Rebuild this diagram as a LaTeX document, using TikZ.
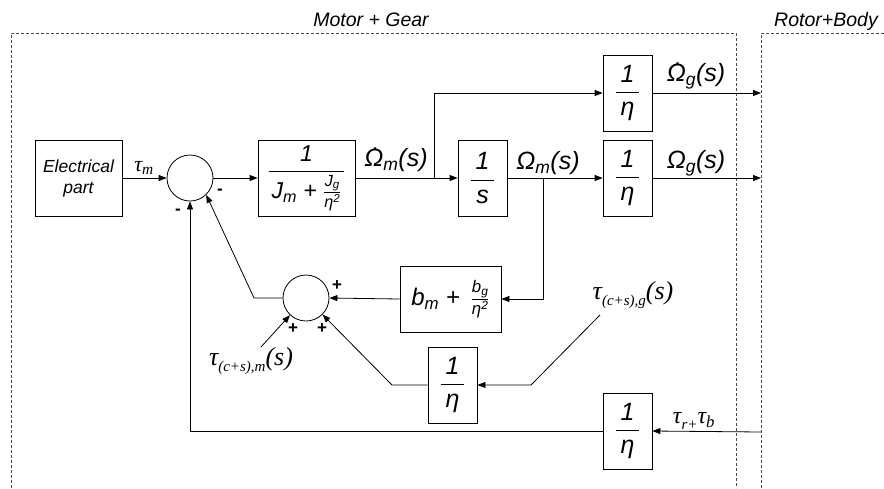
\documentclass[tikz,border=0pt]{standalone}
\usepackage{fontspec}
\usepackage{amsmath}
\setmainfont{Liberation Sans}
\newfontfamily\tmsf{Liberation Serif}
\usetikzlibrary{arrows.meta}
\newcommand\tx[1]{\text{#1}}
\newcommand\dOm{\leavevmode\ooalign{Ω\cr\hidewidth\kern0.18em\raisebox{0.62em}{.}\hidewidth\cr}}
\newcommand\tsb[1]{\raisebox{-0.22em}{\fontsize{15}{15}\selectfont #1}}
\begin{document}
\begin{tikzpicture}[x=1pt,y=-1pt,
  line width=0.8pt,
  blk/.style={draw, inner sep=0pt, align=center},
  sumc/.style={draw, circle, minimum size=46pt, inner sep=0pt},
  arr/.style={-{Triangle[length=8pt,width=6pt]}},
  lbl/.style={font=\fontsize{25}{27}\selectfont\itshape, inner sep=0pt},
  tlbl/.style={font=\tmsf\fontsize{26}{28}\selectfont\itshape, inner sep=0pt},
  sgn/.style={font=\fontsize{17}{17}\selectfont\bfseries, inner sep=0pt},
  ttl/.style={font=\fontsize{19.5}{21}\selectfont\itshape, inner sep=0pt},
  frac/.style={font=\fontsize{25}{27}\selectfont\itshape},
  frame/.style={draw=black!70, dash pattern=on 3pt off 2pt, line width=0.7pt}
]
\useasboundingbox (0,0) rectangle (884,488);
% frames
\draw[frame] (11,488) -- (11,33) -- (736,33) -- (736,488);
\draw[frame] (884,33) -- (761,33) -- (761,488);
\node[ttl] (t1) at (371,20) {Motor + Gear};
\node[ttl] (t2) at (826,21) {Rotor+Body};
% blocks
\node[blk, minimum width=87pt, minimum height=76pt, font=\fontsize{17.5}{21}\selectfont\itshape] (elec) at (78.5,178) {Electrical\\part};
\node[sumc] (s1) at (190,178) {};
\node[blk, minimum width=97pt, minimum height=76pt, font=\fontsize{23}{25}\selectfont\itshape] (b1) at (306.5,178)
  {$\dfrac{\tx{1}}{\hspace{3pt}\tx{J}_{\tx{m}}\tx{ + }\frac{\tx{J}_{\tx{g}}}{\tx{η}^{\tx{2}}}\hspace{3pt}}$};
\node[blk, frac, minimum width=49pt, minimum height=76pt] (integ) at (482.5,178)
  {$\dfrac{\hspace{5pt}\tx{1}\hspace{5pt}}{\tx{s}}$};
\node[blk, frac, minimum width=49pt, minimum height=76pt] (eta1) at (627.5,93)
  {$\dfrac{\hspace{5pt}\tx{1}\hspace{5pt}}{\tx{η}}$};
\node[blk, frac, minimum width=49pt, minimum height=76pt] (eta2) at (627.5,178)
  {$\dfrac{\hspace{5pt}\tx{1}\hspace{5pt}}{\tx{η}}$};
\node[sumc] (s2) at (306,298) {};
\node[blk, minimum width=101pt, minimum height=66pt, font=\fontsize{24}{26}\selectfont\itshape] (bb) at (450.5,299)
  {$\tx{b}_{\tx{m}}\tx{ + }\,\frac{\tx{b}_{\tx{g}}}{\tx{η}^{\tx{2}}}$};
\node[blk, frac, minimum width=49pt, minimum height=76pt] (eta3) at (452.5,385)
  {$\dfrac{\hspace{5pt}\tx{1}\hspace{5pt}}{\tx{η}}$};
\node[blk, frac, minimum width=49pt, minimum height=76pt] (eta4) at (627.5,431)
  {$\dfrac{\hspace{5pt}\tx{1}\hspace{5pt}}{\tx{η}}$};
% coordinates
\coordinate (br1) at (434,178);
\coordinate (br2) at (543,178);
\coordinate (o1) at (761,93);
\coordinate (o2) at (761,178);
\coordinate (fbk1) at (254,298);
\coordinate (fbk2) at (392,385);
\coordinate (g0) at (600,315);
\coordinate (g1) at (531,385);
\coordinate (m0) at (261,347);
\coordinate (rin) at (761,432);
% connectors
\draw[arr] (elec.east) -- (s1.west);
\draw[arr] (s1.east) -- (b1.west);
\draw[arr] (b1.east) -- (integ.west);
\draw[arr] (br1) |- (eta1.west);
\draw[arr] (eta1.east) -- (o1);
\draw[arr] (integ.east) -- (eta2.west);
\draw[arr] (eta2.east) -- (o2);
\draw[arr] (br2) |- (bb.east);
\draw[arr] (bb.west) -- (s2.east);
\draw[arr] (s2.west) -- (fbk1) -- (s1.-46);
\draw[arr] (eta3.west) -- (fbk2) -- (s2.-45);
\draw[arr] (g0) -- (g1) -- (eta3.east);
\draw[arr] (m0) -- (s2.-133);
\draw[arr] (rin) -- (eta4.east);
\draw[arr] (eta4.west) -| (s1.south);
% labels
\node[tlbl, font=\tmsf\fontsize{22}{24}\selectfont\itshape] (ltm) at (144,168) {τ\textsubscript{m}};
\node[lbl] (l1) at (396,160) {\dOm\textsubscript{m}(s)};
\node[lbl] (l2) at (696,76) {\dOm\textsubscript{g}(s)};
\node[lbl] (l3) at (548,163) {Ω\textsubscript{m}(s)};
\node[lbl] (l4) at (696,163) {Ω\textsubscript{g}(s)};
\node[tlbl] (l5) at (251,361) {τ\tsb{(c+s),m}(s)};
\node[tlbl] (l6) at (633,295) {τ\tsb{(c+s),g}(s)};
\node[tlbl, font=\tmsf\fontsize{24}{26}\selectfont\itshape] (l7) at (694,421) {τ\tsb{r+}τ\textsubscript{b}};
% signs
\node[sgn] (m1) at (220,192) {-};
\node[sgn] (m2) at (178,212) {-};
\node[sgn] (p1) at (337,286) {+};
\node[sgn] (p2) at (293,329) {+};
\node[sgn] (p3) at (322,329) {+};
\end{tikzpicture}
\end{document}
